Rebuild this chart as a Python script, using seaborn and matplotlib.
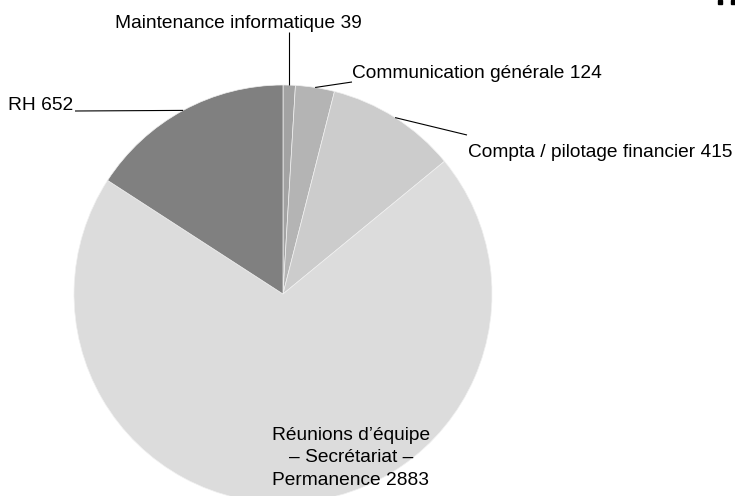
import numpy as np
import matplotlib
matplotlib.use("Agg")
import matplotlib.pyplot as plt
import seaborn as sns
from matplotlib.patches import Rectangle

categories = ["Maintenance informatique", "Communication générale",
              "Compta / pilotage financier",
              "Réunions d’équipe\n– Secrétariat –\nPermanence", "RH"]
values = [39, 124, 415, 2883, 652]
colors = ["#a3a3a3", "#b4b4b4", "#cccccc", "#dcdcdc", "#808080"]

sns.set_theme(style="white")
plt.rcParams["font.family"] = ["Liberation Sans", "DejaVu Sans"]

W, H = 735, 496
fig = plt.figure(figsize=(W / 100, H / 100), dpi=100)
ax = fig.add_axes([0, 0, 1, 1])

cx, cy, r = 283, H - 294, 209
wedges, _ = ax.pie(values, colors=colors, startangle=90, counterclock=False,
                   center=(cx, cy), radius=r,
                   wedgeprops=dict(linewidth=0.5, edgecolor="#f0f0f0"))
ax.set_xlim(0, W)
ax.set_ylim(0, H)
ax.set_aspect("auto")
ax.axis("off")

fs = 13.8
# label anchor (pixel coords, y from top = baseline), alignment, leader end point
labels = [
    dict(txt=f"{categories[0]} {values[0]}", pos=(238, 28), ha="center", va="baseline", end=(None, 32)),
    dict(txt=f"{categories[1]} {values[1]}", pos=(352, 78), ha="left", va="baseline", end=(352, 82)),
    dict(txt=f"{categories[2]} {values[2]}", pos=(468, 157), ha="left", va="baseline", end=(467, 135)),
    dict(txt=f"{categories[3]} {values[3]}", pos=(351, 458), ha="center", va="center", end=None),
    dict(txt=f"{categories[4]} {values[4]}", pos=(8, 110), ha="left", va="baseline", end=(75, 111)),
]

total = sum(values)
cum = 0
for v, w, lab in zip(values, wedges, labels):
    mid = (cum + v / 2) / total * 2 * np.pi  # clockwise from top
    cum += v
    ex = cx + r * np.sin(mid)
    ey = cy + r * np.cos(mid)
    x, y = lab["pos"]
    ax.text(x, H - y, lab["txt"], ha=lab["ha"], va=lab["va"], fontsize=fs,
            color="black", linespacing=1.42, multialignment="center")
    if lab["end"] is not None:
        lx, ly = lab["end"]
        if lx is None:
            lx = ex
        ax.plot([ex, lx], [ey, H - ly], color="black", lw=0.8, solid_capstyle="butt")

# small marks at top right
for x0 in (718, 731):
    fig.patches.append(Rectangle((x0 / W, (H - 4) / H), 4 / W, 4 / H,
                                 transform=fig.transFigure, color="black"))

fig.savefig("out.png", dpi=100)
